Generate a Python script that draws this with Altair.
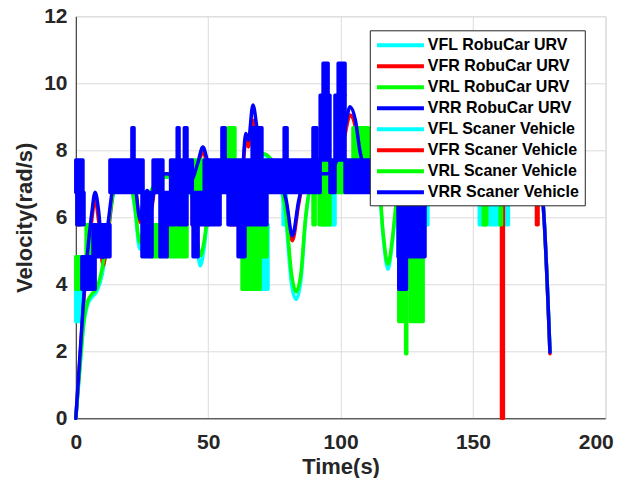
import altair as alt
import pandas as pd

# ---------------- data ----------------
SERIES = ["VFL RobuCar URV", "VFR RobuCar URV", "VRL RobuCar URV", "VRR RobuCar URV",
          "VFL Scaner Vehicle", "VFR Scaner Vehicle", "VRL Scaner Vehicle", "VRR Scaner Vehicle"]
COLORS = ["#00FFFF", "#FF0000", "#00FF00", "#0000FF",
          "#00FFFF", "#FF0000", "#00FF00", "#0000FF"]

X_TICKS = [0, 50, 100, 150, 200]
Y_TICKS = [0, 2, 4, 6, 8, 10, 12]

# RobuCar URV (smooth curves)
T_RIGHT = [0, 1, 2, 3, 4.5, 6, 7.3, 8.6, 10.3, 12, 14, 16, 20, 22.5, 24.2, 25.6, 27, 28.4, 30, 34,
           40, 43.5, 46, 48, 50, 52, 56, 60, 62.5, 64.2, 65.2, 66.9, 68.5, 70, 72, 74, 77, 79.5,
           81.8, 84.2, 86.5, 89, 95, 99, 101.5, 103.6, 105.6, 107.5, 110, 114, 117.9, 121, 125,
           135, 150, 165, 175, 176.5, 179.1]
V_VRR_ROBU = [0, 1.2, 2.4, 3.6, 5.0, 6.1, 6.75, 6.2, 4.8, 5.7, 6.9, 7.3, 7.3, 6.9, 5.95, 6.5, 6.8, 6.3,
              7.0, 7.3, 7.2, 7.1, 7.6, 8.1, 7.6, 7.2, 7.0, 7.2, 7.0, 8.5, 8.3, 9.35, 8.6, 7.6, 7.3,
              7.7, 7.2, 6.5, 5.45, 6.5, 7.2, 7.3, 7.3, 7.8, 8.6, 9.3, 8.9, 7.9, 7.4, 7.6, 8.3, 7.6,
              7.2, 7.2, 7.3, 7.2, 7.2, 6.4, 1.97]
V_VFR_ROBU = [0, 1.1, 2.3, 3.5, 4.9, 5.9, 6.55, 5.9, 4.55, 5.4, 6.7, 7.2, 7.3, 6.85, 5.85, 6.4, 6.7,
              6.2, 6.95, 7.3, 7.2, 7.05, 7.5, 7.95, 7.5, 7.2, 7.0, 7.2, 6.95, 8.3, 8.1, 8.9, 8.4,
              7.5, 7.3, 7.7, 7.2, 6.4, 5.3, 6.4, 7.2, 7.3, 7.3, 7.7, 8.4, 9.05, 8.7, 7.8, 7.4, 7.6,
              8.2, 7.6, 7.2, 7.2, 7.3, 7.2, 7.2, 6.4, 1.93]
T_LEFT = [0, 1, 2, 3, 4.5, 6, 8, 10, 12, 14, 16, 20, 22.2, 24.2, 26, 28, 30, 34, 40, 43.5, 45.5, 47,
          48.5, 50, 52, 56, 60, 64, 67, 71, 74, 77, 79.5, 81.5, 83.2, 85, 86.8, 89, 95, 101, 106,
          110, 114.5, 116, 117.9, 119.5, 121, 123, 130, 150, 165, 175, 176.5, 179.1]
V_VRL_ROBU = [0, 1.0, 2.0, 2.9, 3.5, 3.7, 3.9, 4.5, 5.6, 6.7, 7.2, 7.2, 6.4, 5.25, 5.9, 6.7, 7.0, 7.2,
              7.2, 6.8, 5.6, 4.85, 5.3, 6.2, 7.0, 7.2, 7.3, 7.5, 7.7, 7.9, 7.7, 7.2, 6.0, 4.3, 3.78,
              4.3, 6.0, 7.0, 7.2, 6.8, 6.8, 7.2, 7.0, 5.6, 4.6, 5.3, 6.4, 7.1, 7.2, 7.2, 7.2, 7.2,
              6.4, 2.0]
V_VFL_ROBU = [0, 0.95, 1.9, 2.8, 3.4, 3.6, 3.8, 4.3, 5.4, 6.6, 7.1, 7.2, 6.3, 5.05, 5.8, 6.6, 7.0,
              7.2, 7.2, 6.7, 5.4, 4.55, 5.1, 6.1, 7.0, 7.2, 7.3, 7.45, 7.65, 7.85, 7.65, 7.1, 5.8,
              4.0, 3.55, 4.1, 5.9, 7.0, 7.2, 6.8, 6.8, 7.2, 6.9, 5.5, 4.45, 5.2, 6.3, 7.0, 7.2, 7.2,
              7.2, 7.2, 6.4, 2.0]

# Scaner Vehicle (quantised, rapidly switching) : bursts as (start, end, low, high)
VFL_SCANER_START = [0, 64.0, 78.3, 93.0, 96.6, 132.0, 152.4, 156.0, 161.6]
VFL_SCANER_END = [2.7, 72.6, 79.5, 96.5, 97.9, 133.0, 155.0, 160.4, 163.4]
VFL_SCANER_LOW = [2.89, 3.85, 5.78, 5.78, 5.78, 5.78, 5.78, 5.78, 5.78]
VFL_SCANER_HIGH = [3.85, 5.78, 6.74, 6.74, 6.74, 6.74, 6.74, 6.74, 6.74]

VFR_SCANER_START = [0.8, 44.0, 48.8, 58.3, 100.3, 127.4, 160.8, 174.0]
VFR_SCANER_END = [1.6, 45.0, 50.3, 61.3, 100.8, 128.0, 161.5, 174.6]
VFR_SCANER_LOW = [5.78, 5.78, 5.78, 5.78, 7.71, 4.82, 0.0, 5.78]
VFR_SCANER_HIGH = [6.74, 6.74, 6.74, 6.74, 9.6, 6.74, 6.74, 6.74]

VRL_SCANER_START = [0, 3.9, 28.8, 34.5, 44.0, 57.5, 62.8, 62.8, 89.6, 91.9, 97.9, 104.7, 122.0,
                    124.6, 126.2, 153.9, 160.3]
VRL_SCANER_END = [2.7, 6.5, 31.8, 42.0, 48.5, 60.1, 72.2, 69.6, 90.4, 96.0, 101.7, 110.5, 124.9,
                  125.0, 131.2, 155.2, 160.8]
VRL_SCANER_LOW = [3.85, 4.82, 4.82, 4.82, 6.74, 7.71, 4.82, 3.85, 5.78, 5.78, 6.74, 7.71, 2.89,
                  1.93, 2.89, 5.78, 5.78]
VRL_SCANER_HIGH = [4.82, 5.78, 5.78, 5.78, 7.71, 8.67, 5.78, 4.82, 6.74, 7.71, 7.71, 8.67, 4.82,
                   2.89, 4.82, 6.74, 6.74]

VRR_SCANER_START = [0, 12.9, 29.2, 35.8, 48.5, 96.0, 101.7,
                    21.2, 38.3, 41.0, 55.2, 66.6, 78.7, 89.6, 92.3, 93.4, 97.9, 99.1,
                    0.4, 2.3, 6.5, 25.0, 31.8, 34.5, 38.3, 43.9, 44.3, 57.5, 61.3, 121.7, 122.0]
VRR_SCANER_END = [2.7, 25.4, 32.9, 44.0, 92.3, 97.9, 176.0,
                  22.0, 39.0, 42.0, 56.4, 70.3, 79.8, 91.1, 96.0, 95.3, 101.7, 101.7,
                  3.1, 7.3, 12.9, 28.8, 34.5, 37.5, 42.0, 54.5, 46.2, 72.2, 63.9, 131.9, 124.9]
VRR_SCANER_LOW = [6.74, 6.74, 6.74, 6.74, 6.74, 6.74, 6.74,
                  7.71, 7.71, 7.71, 7.71, 7.71, 7.71, 7.71, 7.71, 9.64, 7.71, 9.64,
                  5.78, 3.85, 4.82, 4.82, 4.82, 5.78, 5.78, 5.78, 4.82, 5.78, 4.82, 4.82, 3.85]
VRR_SCANER_HIGH = [7.71, 7.71, 7.71, 7.71, 7.71, 7.71, 7.71,
                   8.67, 8.67, 8.67, 8.67, 8.67, 8.67, 8.67, 9.64, 10.6, 9.64, 10.6,
                   6.74, 4.82, 5.78, 6.74, 6.74, 6.74, 6.74, 6.74, 5.78, 6.74, 5.78, 7.71, 4.82]

# ---------------- tables ----------------
curves = [(SERIES[0], T_LEFT, V_VFL_ROBU), (SERIES[1], T_RIGHT, V_VFR_ROBU),
          (SERIES[2], T_LEFT, V_VRL_ROBU), (SERIES[3], T_RIGHT, V_VRR_ROBU)]
line_rows = []
for name, ts, vs in curves:
    for t, v in zip(ts, vs):
        line_rows.append({"series": name, "t": t, "v": v})
lines_df = pd.DataFrame(line_rows)

bursts = [(SERIES[4], VFL_SCANER_START, VFL_SCANER_END, VFL_SCANER_LOW, VFL_SCANER_HIGH),
          (SERIES[5], VFR_SCANER_START, VFR_SCANER_END, VFR_SCANER_LOW, VFR_SCANER_HIGH),
          (SERIES[6], VRL_SCANER_START, VRL_SCANER_END, VRL_SCANER_LOW, VRL_SCANER_HIGH),
          (SERIES[7], VRR_SCANER_START, VRR_SCANER_END, VRR_SCANER_LOW, VRR_SCANER_HIGH)]
rect_rows = []
for name, s, e, lo, hi in bursts:
    for a, b, c, d in zip(s, e, lo, hi):
        rect_rows.append({"series": name, "t0": a, "t1": b, "lo": c, "hi": d})
rects_df = pd.DataFrame(rect_rows)

# ---------------- styling ----------------
FONT = "Liberation Sans"
TXT = "#262626"

x_scale = alt.Scale(domain=[0, 200], nice=False, zero=False)
y_scale = alt.Scale(domain=[0, 12], nice=False)

x_axis = alt.Axis(values=X_TICKS, title="Time(s)", titleFont=FONT, titleFontSize=22,
                  titleFontWeight="bold", titleColor=TXT, titleY=55, titleBaseline="alphabetic",
                  labelFont=FONT, labelFontSize=21, labelFontWeight="bold", labelColor=TXT,
                  labelBaseline="alphabetic", labelPadding=30.5, tickSize=0, labelFlush=False,
                  labelAlign=alt.ExprRef(expr="datum.value == 200 ? 'right' : 'center'"),
                  labelOffset=alt.ExprRef(expr="datum.value == 200 ? 8 : 0"),
                  labelOverlap=False, domainColor=TXT, gridColor="#dcdcdc")
y_axis = alt.Axis(values=Y_TICKS, title="Velocity(rad/s)", titleFont=FONT, titleFontSize=22,
                  titleFontWeight="bold", titleColor=TXT, titleX=-44, titleY=201,
                  titleAngle=270, titleAlign="center", titleBaseline="alphabetic",
                  labelFont=FONT, labelFontSize=21, labelFontWeight="bold", labelColor=TXT,
                  labelPadding=8.8, tickSize=0, labelFlush=False, labelOverlap=False,
                  domainColor=TXT, gridColor="#dcdcdc")

legend = alt.Legend(title=None, orient="none", legendX=294, legendY=14,
                    symbolType="M-1,0H5", symbolSize=245, symbolStrokeWidth=4,
                    labelFont=FONT, labelFontSize=16, labelFontWeight="bold", labelColor="black",
                    labelLimit=400, labelOffset=33, padding=5, rowPadding=3.0,
                    strokeColor=TXT, fillColor="white", values=SERIES)

layers = []
for i in range(4):
    line = alt.Chart(lines_df).transform_filter(
        alt.datum.series == SERIES[i]
    ).mark_line(strokeWidth=3.5, interpolate="monotone", strokeCap="round", strokeJoin="round").encode(
        x=alt.X("t:Q", scale=x_scale, axis=x_axis),
        y=alt.Y("v:Q", scale=y_scale, axis=y_axis),
        stroke=alt.Stroke("series:N", scale=alt.Scale(domain=SERIES, range=COLORS), legend=legend),
    )
    block = alt.Chart(rects_df).transform_filter(
        alt.datum.series == SERIES[i + 4]
    ).mark_rect(fill=COLORS[i + 4], stroke=COLORS[i + 4], strokeWidth=3.5, strokeJoin="round").encode(
        x=alt.X("t0:Q", scale=x_scale, axis=x_axis),
        x2="t1:Q",
        y=alt.Y("lo:Q", scale=y_scale, axis=y_axis),
        y2="hi:Q",
    )
    layers += [line, block]

chart = alt.layer(*layers).properties(
    width=529.5, height=402,
    autosize=alt.AutoSizeParams(type="none"),
    padding={"left": 67.8, "top": 8.3, "right": 8.5, "bottom": 60},
).configure_view(stroke=TXT, strokeWidth=1).configure(background="white")

chart.save("out.html", embed_options={"renderer": "svg", "actions": False})
